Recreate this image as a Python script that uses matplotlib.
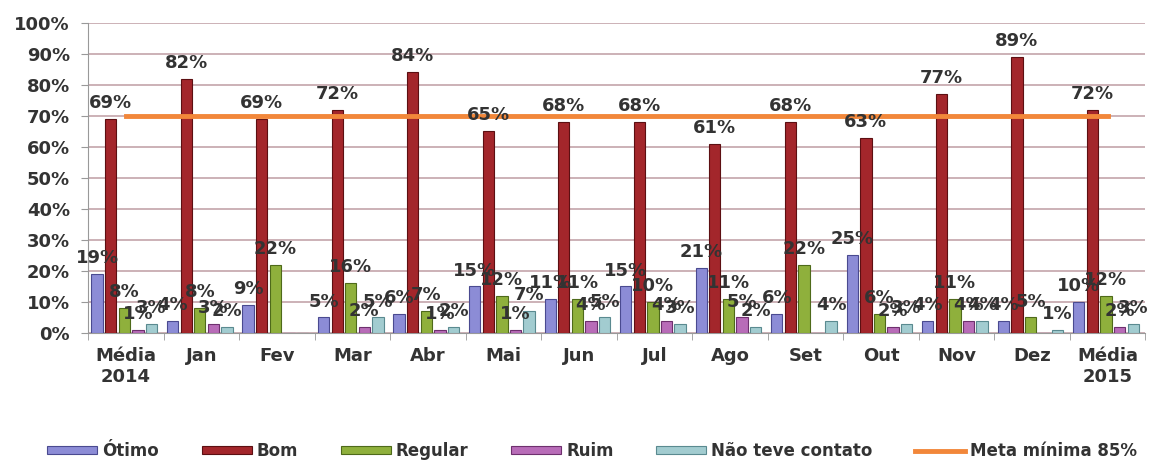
import matplotlib
matplotlib.use('Agg')
import matplotlib.pyplot as plt
import numpy as np

# categorias e valores (%)
categorias = ["Média\n2014", "Jan", "Fev", "Mar", "Abr", "Mai", "Jun", "Jul",
              "Ago", "Set", "Out", "Nov", "Dez", "Média\n2015"]
otimo = [19, 4, 9, 5, 6, 15, 11, 15, 21, 6, 25, 4, 4, 10]
bom = [69, 82, 69, 72, 84, 65, 68, 68, 61, 68, 63, 77, 89, 72]
regular = [8, 8, 22, 16, 7, 12, 11, 10, 11, 22, 6, 11, 5, 12]
ruim = [1, 3, 0, 2, 1, 1, 4, 4, 5, 0, 2, 4, 0, 2]
sem_contato = [3, 2, 0, 5, 2, 7, 5, 3, 2, 4, 3, 4, 1, 3]
meta = [70] * len(categorias)

series = [("Ótimo", otimo, "#8c8cd6", "#4a4a90"),
          ("Bom", bom, "#a3262b", "#5c0f12"),
          ("Regular", regular, "#8fb03c", "#4e6a1a"),
          ("Ruim", ruim, "#b86cb8", "#6e306e"),
          ("Não teve contato", sem_contato, "#a2ccd0", "#5a8a90")]

txt = "#333333"
fig = plt.figure(figsize=(11.58, 4.75), dpi=100)
ax = fig.add_axes([0.076, 0.299, 0.913, 0.653])

x = np.arange(len(categorias))
handles = []
for i, (nome, vals, cor, borda) in enumerate(series):
    pos = x + (i - 2) * 0.18 - 0.02
    h = ax.bar(pos, vals, width=0.15, color=cor, edgecolor=borda, linewidth=0.8,
               label=nome, zorder=3)
    handles.append(h)
    for px, v in zip(pos, vals):
        if v > 0:
            ax.annotate(f"{v}%", (px, v), xytext=(0, 5), textcoords="offset points",
                        ha="center", va="bottom", fontsize=13, fontweight="bold",
                        color=txt, zorder=5)

linha, = ax.plot(x, meta, color="#f2873a", linewidth=3.5, label="Meta mínima 85%", zorder=4)
handles.append(linha)

ax.set_xlim(-0.5, len(categorias) - 0.5)
ax.set_ylim(0, 100)
ax.set_yticks(range(0, 101, 10))
ax.set_yticklabels([f"{v}%" for v in range(0, 101, 10)])
ax.set_xticks(x)
ax.set_xticklabels(categorias)
ax.set_xticks(np.arange(-0.5, len(categorias), 1), minor=True)
ax.tick_params(axis="x", which="major", length=0, pad=10)
ax.tick_params(axis="x", which="minor", length=5, color="#999999")
ax.tick_params(axis="y", length=5, color="#999999", pad=8)
for lab in ax.get_xticklabels() + ax.get_yticklabels():
    lab.set_fontsize(13)
    lab.set_fontweight("bold")
    lab.set_color(txt)

ax.grid(axis="y", color="#c4a4aa", linewidth=1.2, zorder=0)
for s in ["top", "right"]:
    ax.spines[s].set_visible(False)
ax.spines["left"].set_color("#999999")
ax.spines["bottom"].set_color("#999999")

fig.legend(handles=handles, labels=[h.get_label() for h in handles],
           loc="lower left", bbox_to_anchor=(0.028, 0.0, 0.967, 0.06), mode="expand",
           ncol=6, frameon=False, handlelength=3.0, handleheight=0.4,
           handletextpad=0.3, prop={"size": 12, "weight": "bold"}, labelcolor=txt)

plt.savefig("out.png", dpi=100)
